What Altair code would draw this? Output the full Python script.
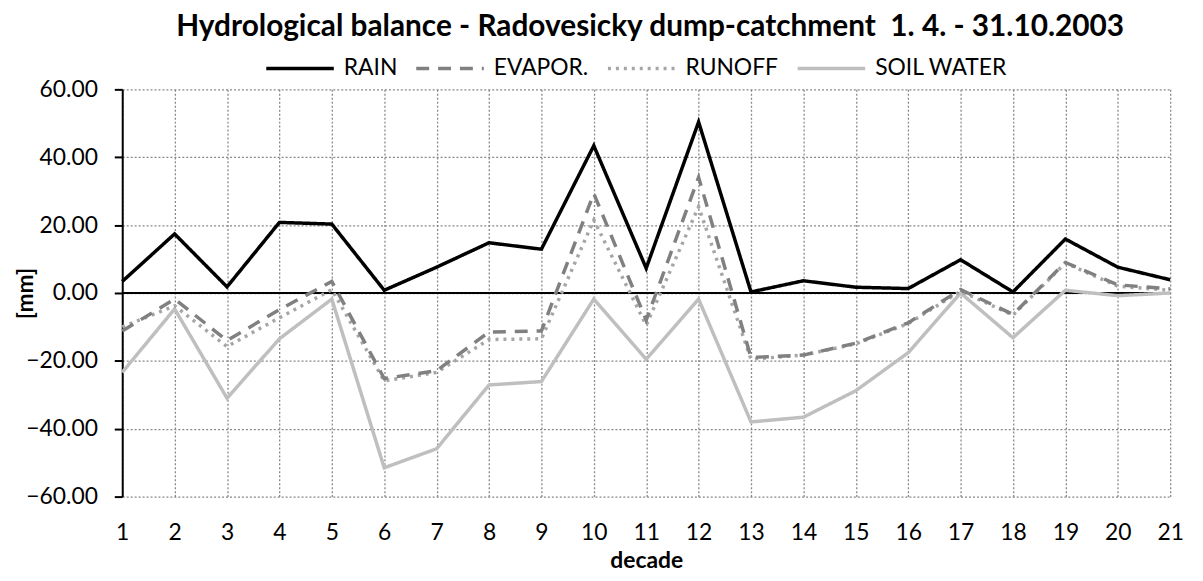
import altair as alt
import pandas as pd

decades = list(range(1, 22))
rain = [3.4, 17.4, 1.8, 20.8, 20.3, 0.8, 7.6, 14.8, 12.9, 43.4, 7.3, 50.4, 0.3, 3.6, 1.7, 1.3, 9.8, 0.3, 15.9, 7.6, 3.9]
evapor = [-11.2, -1.8, -14.0, -4.9, 3.4, -25.2, -22.9, -11.5, -11.2, 29.3, -8.0, 34.1, -19.0, -18.3, -14.8, -8.8, 1.0, -6.3, 9.0, 2.4, 1.2]
runoff = [-10.0, -3.8, -15.8, -7.3, 1.0, -25.9, -23.4, -13.7, -13.5, 21.5, -9.5, 25.4, -19.5, -18.3, -15.0, -9.0, 0.5, -6.5, 8.8, 2.0, 0.8]
soil = [-23.4, -4.7, -31.0, -13.5, -1.8, -51.5, -45.9, -27.1, -26.1, -1.8, -19.5, -1.8, -38.0, -36.6, -28.8, -17.6, 0.0, -13.2, 0.8, -0.8, 0.0]

series_names = ["RAIN", "EVAPOR.", "RUNOFF", "SOIL WATER"]
series_values = [rain, evapor, runoff, soil]
series_colors = ["#000000", "#808080", "#A6A6A6", "#BFBFBF"]
series_dash = [[1, 0], [13, 9], [3, 5], [1, 0]]
y_ticks = [-60, -40, -20, 0, 20, 40, 60]

rows = []
for name, vals in zip(series_names, series_values):
    for d, v in zip(decades, vals):
        rows.append({"decade": d, "value": v, "series": name})
df = pd.DataFrame(rows)

FONT = "Lato"

legend = alt.Legend(
    title=None, orient="none", direction="horizontal",
    legendX=143, legendY=-57,
    symbolType="stroke", symbolSize=4624, symbolStrokeWidth=3.5,
    labelFont=FONT, labelFontSize=23, labelColor="#000000",
    labelOffset=8, columnPadding=12, labelLimit=300,
)

color = alt.Color("series:N", scale=alt.Scale(domain=series_names, range=series_colors), legend=legend)
dash = alt.StrokeDash("series:N", scale=alt.Scale(domain=series_names, range=series_dash), legend=legend)

x = alt.X("decade:Q",
          scale=alt.Scale(domain=[1, 21], nice=False, zero=False),
          axis=alt.Axis(values=decades, title="decade", domain=False, ticks=False,
                        labelPadding=25, labelFont=FONT, labelFontSize=23, labelColor="#000",
                        titleFont=FONT, titleFontSize=23, titleFontWeight="bold", titleColor="#000",
                        titleY=71, titleBaseline="alphabetic",
                        grid=True, gridDash=[2, 2], gridColor="#888888", gridWidth=1.3))
y = alt.Y("value:Q",
          scale=alt.Scale(domain=[-60, 60], nice=False),
          axis=alt.Axis(values=y_ticks, format=".2f", title="[mm]",
                        domain=True, domainColor="#000", domainWidth=2,
                        ticks=True, tickColor="#000", tickWidth=2, tickSize=8,
                        labelPadding=17, labelFont=FONT, labelFontSize=23, labelColor="#000",
                        titleFont=FONT, titleFontSize=23, titleFontWeight="bold", titleColor="#000",
                        titleAngle=270, titleX=-90, titleY=205, titleBaseline="alphabetic",
                        titleAlign="center",
                        grid=True, gridDash=[2, 2], gridColor="#888888", gridWidth=1.3))

base = alt.Chart(df)

layers = []
for name, w in [("SOIL WATER", 3.5), ("RUNOFF", 3.5), ("EVAPOR.", 3.5), ("RAIN", 3.5)]:
    layers.append(
        base.transform_filter(alt.datum.series == name)
        .mark_line(strokeWidth=w, strokeCap="butt")
        .encode(x=x, y=y, color=color, strokeDash=dash)
    )

zero = alt.Chart(pd.DataFrame({"v": [0]})).mark_rule(color="#000000", strokeWidth=2).encode(y=alt.Y("v:Q"))

chart = alt.layer(zero, *layers).properties(
    width=1055, height=410,
    title=alt.TitleParams(
        "Hydrological balance - Radovesicky dump-catchment\u00a0 1. 4. - 31.10.2003",
        font=FONT, fontSize=30, fontWeight="bold", color="#000", anchor="middle",
        frame="group", orient="top", baseline="alphabetic", dy=33, dx=4, offset=0,
    ),
    autosize=alt.AutoSizeParams(type="none"),
    padding={"left": 115, "top": 80, "right": 25, "bottom": 75},
).configure_view(stroke=None).configure_axis(labelFlush=False)

chart.save("out.html", embed_options={"renderer": "svg", "actions": False})
